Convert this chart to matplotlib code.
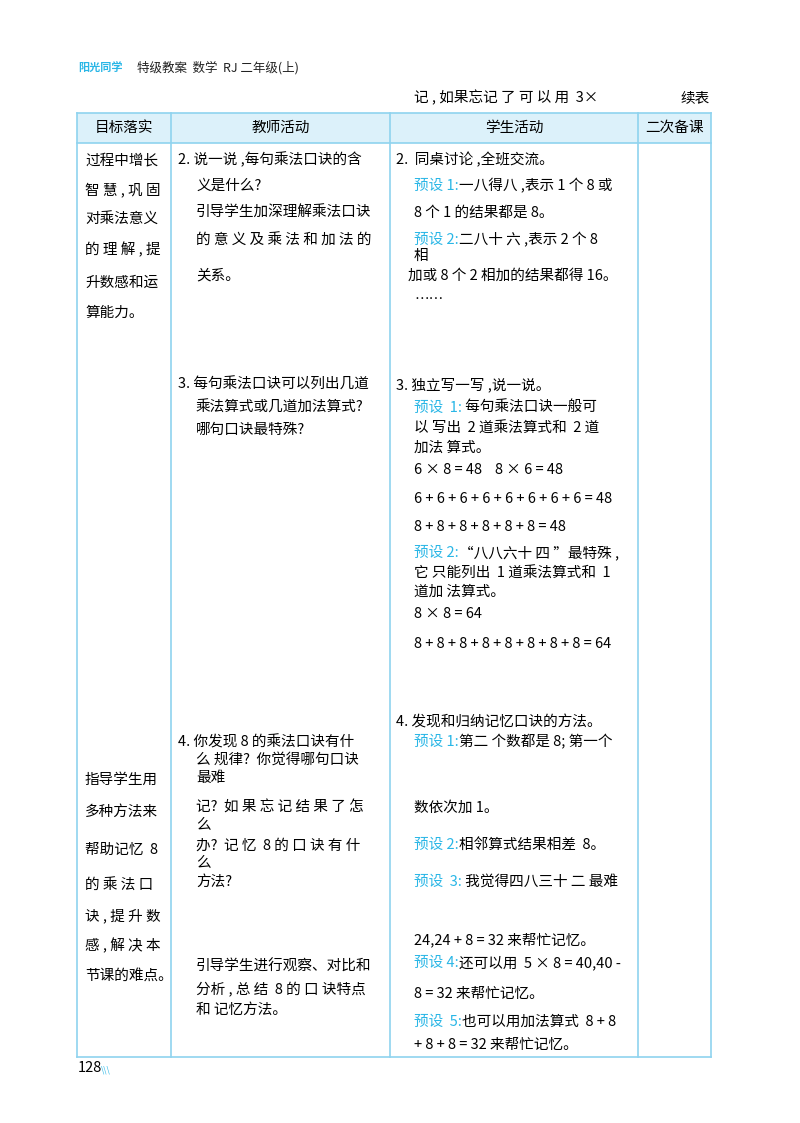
import matplotlib.pyplot as plt
from matplotlib.patches import Rectangle

plt.rcParams['font.family'] = ['Noto Sans CJK SC', 'DejaVu Sans']

BLUE = '#29b6e6'
LINE = '#8fd3ef'
FS = 10.5

# column borders and header labels
col_edges = [77, 171, 390, 638, 711]
headers = ['目标落实', '教师活动', '学生活动', '二次备课']
table_top, header_bottom, table_bottom = 113, 143, 1057

# column 1 text lines: (y, text)
col1 = [(160, '过程中增长'), (190, '智 慧 , 巩 固'), (220, '对乘法意义'), (250, '的 理 解 , 提'),
        (283, '升数感和运'), (313, '算能力。'),
        (780, '指导学生用'), (812, '多种方法来'), (850, '帮助记忆  8'), (886, '的 乘 法 口'),
        (916, '诀 , 提 升 数'), (946, '感 , 解 决 本'), (976, '节课的难点。')]

# column 2 text lines: (x, y, text)
col2 = [(178, 160, '2. 说一说 ,每句乘法口诀的含'), (196, 186, '义是什么?'),
        (196, 213, '引导学生加深理解乘法口诀'), (196, 241, '的 意 义 及 乘 法 和 加 法 的'),
        (196, 275, '关系。'),
        (178, 385, '3. 每句乘法口诀可以列出几道'), (196, 408, '乘法算式或几道加法算式?'),
        (196, 430, '哪句口诀最特殊?'),
        (178, 742, '4. 你发现 8 的乘法口诀有什'), (196, 760, '么 规律?  你觉得哪句口诀'),
        (196, 778, '最难'),
        (196, 808, '记?  如 果 忘 记 结 果 了 怎'), (196, 825, '么'),
        (196, 846, '办?  记 忆  8 的 口 诀 有 什'), (196, 863, '么'),
        (196, 882, '方法?'),
        (196, 967, '引导学生进行观察、对比和'), (196, 990, '分析 , 总 结  8 的 口 诀特点'),
        (196, 1010, '和 记忆方法。')]

# column 3 text lines: (x, y, blue prefix, rest)
col3 = [(396, 160, '', '2.  同桌讨论 ,全班交流。'),
        (414, 186, '预设 1:', '一八得八 ,表示 1 个 8 或'),
        (414, 213, '', '8 个 1 的结果都是 8。'),
        (414, 240, '预设 2:', '二八十 六 ,表示 2 个 8'), (414, 256, '', '相'),
        (408, 276, '', '加或 8 个 2 相加的结果都得 16。'),
        (414, 300, '', '……'),
        (396, 385, '', '3. 独立写一写 ,说一说。'),
        (414, 408, '预设  1:', ' 每句乘法口诀一般可'),
        (414, 429, '', '以 写出  2 道乘法算式和  2 道'),
        (414, 448, '', '加法 算式。'),
        (414, 470, '', '6 × 8 = 48    8 × 6 = 48'),
        (414, 499, '', '6 + 6 + 6 + 6 + 6 + 6 + 6 + 6 = 48'),
        (414, 527, '', '8 + 8 + 8 + 8 + 8 + 8 = 48'),
        (414, 553, '预设 2:', '“八八六十 四 ”最特殊 ,'),
        (414, 574, '', '它 只能列出  1 道乘法算式和  1'),
        (414, 592, '', '道加 法算式。'),
        (414, 614, '', '8 × 8 = 64'),
        (414, 644, '', '8 + 8 + 8 + 8 + 8 + 8 + 8 + 8 = 64'),
        (396, 722, '', '4. 发现和归纳记忆口诀的方法。'),
        (414, 742, '预设 1:', '第二 个数都是 8; 第一个'),
        (414, 808, '', '数依次加 1。'),
        (414, 845, '预设 2:', '相邻算式结果相差  8。'),
        (414, 882, '预设  3:', ' 我觉得四八三十 二 最难'),
        (414, 940, '', '24,24 + 8 = 32 来帮忙记忆。'),
        (414, 963, '预设 4:', '还可以用  5 × 8 = 40,40 -'),
        (414, 994, '', '8 = 32 来帮忙记忆。'),
        (414, 1022, '预设  5:', '也可以用加法算式  8 + 8'),
        (414, 1045, '', '+ 8 + 8 = 32 来帮忙记忆。')]

fig = plt.figure(figsize=(8, 11.23), dpi=100)
ax = fig.add_axes([0, 0, 1, 1])
ax.set_xlim(0, 800)
ax.set_ylim(1123, 0)
ax.axis('off')

# page header
ax.text(78, 67, '阳光同学', color=BLUE, fontsize=8, fontweight='bold', style='italic', va='center')
ax.text(137, 68, '特级教案  数学  RJ 二年级(上)', fontsize=9, va='center', color='#222222')
ax.text(414, 98, '记 , 如果忘记 了 可 以 用  3×', fontsize=FS, va='center')
ax.text(710, 98, '续表', fontsize=FS, va='center', ha='right')

# table
ax.add_patch(Rectangle((col_edges[0], table_top), col_edges[-1] - col_edges[0],
                       header_bottom - table_top, facecolor='#dcf1fa', edgecolor='none'))
for x in col_edges:
    ax.plot([x, x], [table_top, table_bottom], color=LINE, lw=1.2)
for y in [table_top, header_bottom, table_bottom]:
    ax.plot([col_edges[0], col_edges[-1]], [y, y], color=LINE, lw=1.2)
for i, h in enumerate(headers):
    ax.text((col_edges[i] + col_edges[i + 1]) / 2, (table_top + header_bottom) / 2, h,
            ha='center', va='center', fontsize=FS)

for y, t in col1:
    ax.text(85, y, t, fontsize=FS, va='center')
for x, y, t in col2:
    ax.text(x, y, t, fontsize=FS, va='center')
for x, y, pre, t in col3:
    if pre:
        tp = ax.text(x, y, pre, fontsize=FS, va='center', color=BLUE)
        fig.canvas.draw()
        bb = tp.get_window_extent()
        x2 = ax.transData.inverted().transform((bb.x1, 0))[0]
        ax.text(x2, y, t, fontsize=FS, va='center')
    else:
        ax.text(x, y, t, fontsize=FS, va='center')

# page number
ax.text(78, 1068, '128', fontsize=FS, va='center')
ax.text(101, 1070, '\\\\\\', fontsize=6, va='center', color=BLUE)

fig.savefig('out.png', dpi=100)
